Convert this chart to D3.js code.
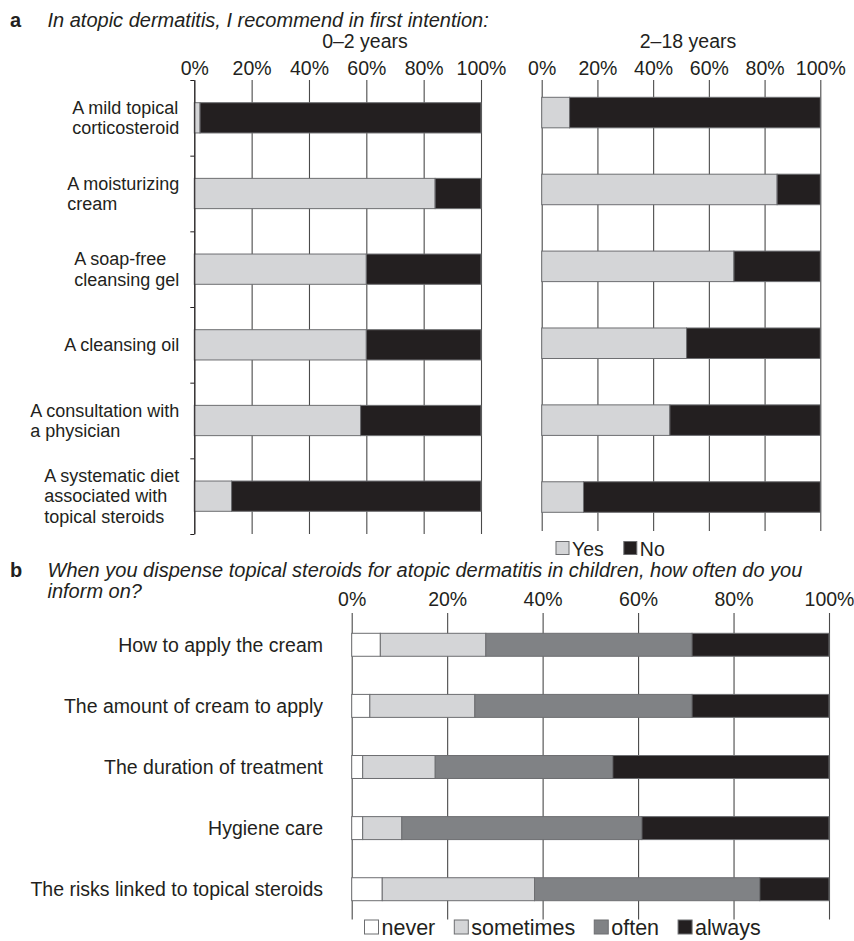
<!DOCTYPE html>
<html>
<head>
<meta charset="utf-8">
<script src="https://cdn.jsdelivr.net/npm/d3@7"></script>
<style>
  body { margin: 0; background: #fff; }
  text { font-family: "Liberation Sans", Arial, sans-serif; fill: #231f20; }
</style>
</head>
<body>
<div id="wrapper"></div>
<script>
// panel a data
const treatmentLabels = [
  ["A mild topical", "corticosteroid"],
  ["A moisturizing", "cream"],
  ["A soap-free", "cleansing gel"],
  ["A cleansing oil"],
  ["A consultation with", "a physician"],
  ["A systematic diet", "associated with", "topical steroids"]
]
const treatments = treatmentLabels.map(d => d.join(" "))
const ageGroups = ["0–2 years", "2–18 years"]
const yes0to2 = [2, 84, 60, 60, 58, 13]
const no0to2 = [98, 16, 40, 40, 42, 87]
const yes2to18 = [10, 84.5, 69, 52, 46, 15]
const no2to18 = [90, 15.5, 31, 48, 54, 85]
const answers = ["Yes", "No"]

// panel b data
const topics = [
  "How to apply the cream",
  "The amount of cream to apply",
  "The duration of treatment",
  "Hygiene care",
  "The risks linked to topical steroids"
]
const never = [6, 3.8, 2.3, 2.3, 6.4]
const sometimes = [22.1, 22, 15.2, 8.2, 31.9]
const often = [43.2, 45.5, 37.2, 50.3, 47.2]
const always = [28.7, 28.7, 45.3, 39.2, 14.5]
const frequencies = ["never", "sometimes", "often", "always"]

const percentTicks = [0, 20, 40, 60, 80, 100]

const colors = {
  Yes: "#d4d5d7", No: "#231f20",
  never: "#ffffff", sometimes: "#d4d5d7", often: "#808285", always: "#231f20"
}
const barStroke = "#6d6e71"
const gridColor = "#4a4a4a"
const fontSize = 19.5

const width = 854
const height = 941

const svg = d3.select("#wrapper")
  .append("svg")
  .attr("width", width)
  .attr("height", height)

// headings
const heading = (letter, lines, y) => {
  svg.append("text")
    .attr("x", 10).attr("y", y)
    .style("font-size", "20px").style("font-weight", "bold")
    .text(letter)
  lines.forEach((line, i) => {
    svg.append("text")
      .attr("x", 47.5).attr("y", y + i * 21)
      .style("font-size", "20px").style("font-style", "italic")
      .text(line)
  })
}
heading("a", ["In atopic dermatitis, I recommend in first intention:"], 27)
heading("b", [
  "When you dispense topical steroids for atopic dermatitis in children, how often do you",
  "inform on?"
], 577)

// grid + top percent axis
const drawGrid = (g, xScale, top, bottom) => {
  const axis = d3.axisTop(xScale)
    .tickValues(percentTicks)
    .tickFormat(d => d + "%")
    .tickSize(-(bottom - top))
    .tickPadding(5)
  const ax = g.append("g")
    .attr("transform", `translate(0, ${top})`)
    .call(axis)
  ax.select(".domain").remove()
  ax.selectAll(".tick line")
    .attr("stroke", gridColor)
    .attr("stroke-width", 1.1)
  ax.selectAll(".tick text")
    .attr("fill", "#231f20")
    .style("font-family", "'Liberation Sans', Arial, sans-serif")
    .style("font-size", fontSize + "px")
}

// panel a : two yes/no charts
const panelA = [
  { title: ageGroups[0], yes: yes0to2, no: no0to2, x0: 194.3, x1: 481,
    top: 80, bottom: 534, band: [80, 534], pIn: 0.6, pOut: 0.3, titleX: 365, ticks: true },
  { title: ageGroups[1], yes: yes2to18, no: no2to18, x0: 541.7, x1: 820.3,
    top: 80, bottom: 531, band: [97.3, 512.3], pIn: 0.603, pOut: 0, titleX: 688, ticks: false }
]

panelA.forEach(p => {
  const g = svg.append("g")
  const xScale = d3.scaleLinear().domain([0, 100]).range([p.x0, p.x1])
  const yScale = d3.scaleBand()
    .domain(treatments)
    .range(p.band)
    .paddingInner(p.pIn)
    .paddingOuter(p.pOut)

  g.append("text")
    .attr("x", p.titleX).attr("y", 48)
    .attr("text-anchor", "middle")
    .style("font-size", fontSize + "px")
    .text(p.title)

  drawGrid(g, xScale, p.top, p.bottom)

  const rows = treatments.map((t, i) => ({ treatment: t, Yes: p.yes[i], No: p.no[i] }))
  const series = d3.stack().keys(answers)(rows)

  g.append("g").selectAll("g")
    .data(series)
    .join("g")
      .attr("fill", d => colors[d.key])
    .selectAll("rect")
    .data(d => d)
    .join("rect")
      .attr("x", d => xScale(d[0]))
      .attr("width", d => xScale(d[1]) - xScale(d[0]))
      .attr("y", d => yScale(d.data.treatment))
      .attr("height", yScale.bandwidth())
      .attr("stroke", barStroke)
      .attr("stroke-width", 1)

  if (p.ticks) {
    // category boundary ticks on the left axis
    const boundary = d3.scaleLinear().domain([0, treatments.length]).range([p.top, p.bottom])
    const leftAxis = d3.axisLeft(boundary)
      .tickValues(d3.range(treatments.length + 1))
      .tickFormat("")
      .tickSize(4)
      .tickSizeOuter(0)
    const la = g.append("g")
      .attr("transform", `translate(${p.x0}, 0)`)
      .call(leftAxis)
    la.selectAll("line, path").attr("stroke", "#231f20")

    // multi-line labels, left-aligned block ending near the axis
    const labelRight = p.x0 - 15
    const lineGap = 20.3
    treatmentLabels.forEach((lines, i) => {
      const cy = yScale(treatments[i]) + yScale.bandwidth() / 2
      const t = g.append("text")
        .style("font-size", "18px")
      const spans = lines.map((line, j) => t.append("tspan")
        .attr("y", cy + 6.3 - (lines.length - 1) * lineGap / 2 + j * lineGap)
        .text(line))
      const w = d3.max(spans, s => s.node().getComputedTextLength())
      spans.forEach(s => s.attr("x", labelRight - w))
    })
  }
})

// legends
const legendRow = (items, x, y, size, fs, gap) => {
  const lg = svg.append("g")
  let cx = x
  items.forEach(key => {
    lg.append("rect")
      .attr("x", cx).attr("y", y - size - 1)
      .attr("width", size).attr("height", size)
      .attr("fill", colors[key])
      .attr("stroke", barStroke)
    const t = lg.append("text")
      .attr("x", cx + size + 3).attr("y", y)
      .style("font-size", fs + "px")
      .text(key)
    cx += size + 3 + t.node().getComputedTextLength() + gap
  })
}
legendRow(answers, 556, 555.5, 13, 19.5, 20)

// panel b : stacked frequency chart
{
  const g = svg.append("g")
  const xScale = d3.scaleLinear().domain([0, 100]).range([351.7, 829])
  const yScale = d3.scaleBand()
    .domain(topics)
    .range([633.3, 900.7])
    .paddingInner(0.624)
    .paddingOuter(0)

  drawGrid(g, xScale, 613, 919.5)
  g.selectAll(".tick text").attr("dy", "-0.1em")

  const rows = topics.map((t, i) => ({
    topic: t, never: never[i], sometimes: sometimes[i], often: often[i], always: always[i]
  }))
  const series = d3.stack().keys(frequencies)(rows)

  g.append("g").selectAll("g")
    .data(series)
    .join("g")
      .attr("fill", d => colors[d.key])
    .selectAll("rect")
    .data(d => d)
    .join("rect")
      .attr("x", d => xScale(d[0]))
      .attr("width", d => xScale(d[1]) - xScale(d[0]))
      .attr("y", d => yScale(d.data.topic))
      .attr("height", yScale.bandwidth())
      .attr("stroke", barStroke)
      .attr("stroke-width", 1)

  g.append("g").selectAll("text")
    .data(topics)
    .join("text")
      .attr("x", 323)
      .attr("y", d => yScale(d) + yScale.bandwidth() / 2 + 6.8)
      .attr("text-anchor", "end")
      .style("font-size", fontSize + "px")
      .text(d => d)

  legendRow(frequencies, 364.5, 935, 14, 21.5, 19)
}
</script>
</body>
</html>
